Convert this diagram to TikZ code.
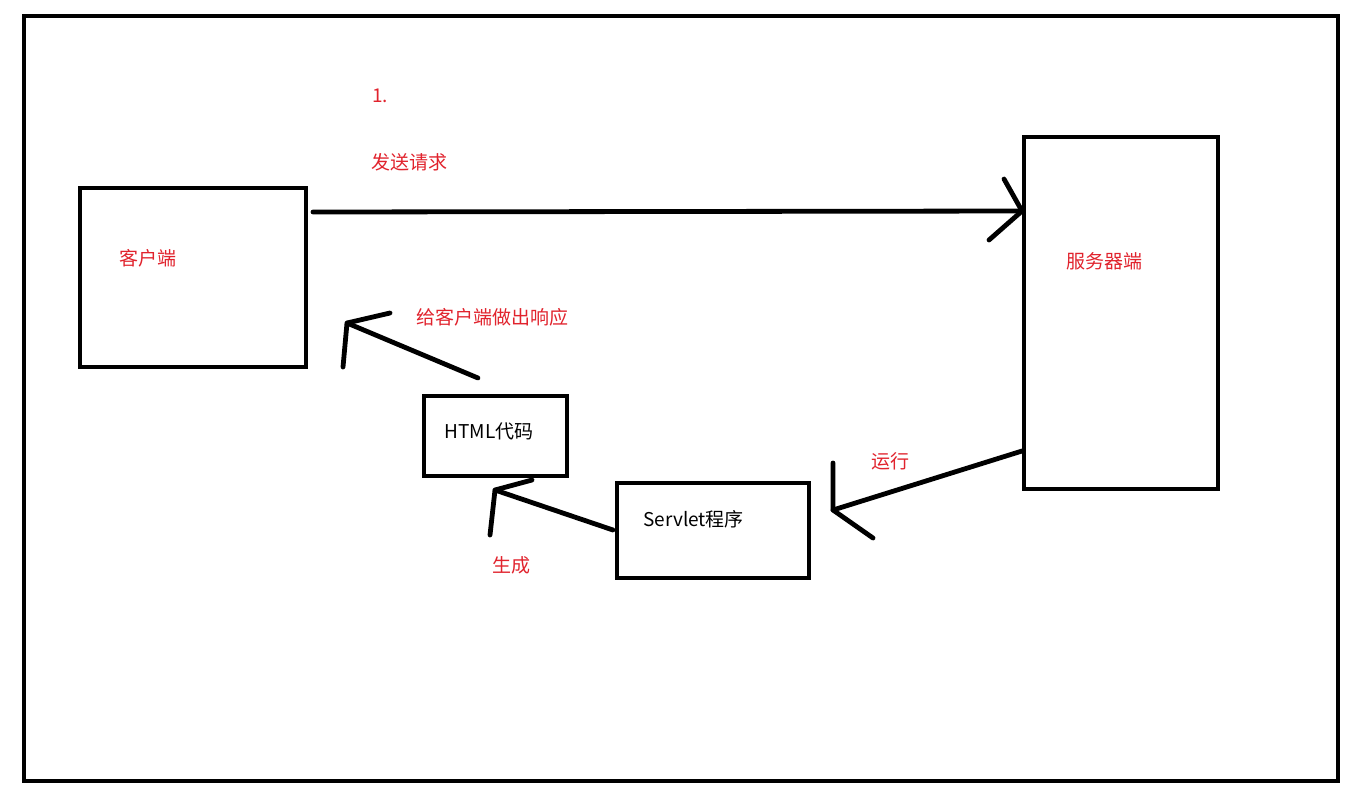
\documentclass[tikz,border=0pt]{standalone}
\usepackage{fontspec}
\setmainfont{Noto Sans CJK SC}
\definecolor{lbl}{RGB}{225,35,45}
\begin{document}
\begin{tikzpicture}[x=0.5pt,y=-0.5pt,
  box/.style={draw=black,line width=2.2pt,inner sep=0pt},
  ln/.style={draw=black,line width=2.4pt,line cap=round,line join=round},
  red/.style={text=lbl,font=\fontsize{9.5pt}{11pt}\selectfont,inner sep=0pt},
  blk/.style={text=black,font=\fontsize{9.5pt}{11pt}\selectfont,inner sep=0pt}]
\useasboundingbox (0,0) rectangle (1359,800);
\fill[white] (0,0) rectangle (1359,800);
\draw[line width=2.2pt] (24,16) rectangle (1338,781);
% boxes
\draw[box] (80,188) rectangle (306,367) node[midway] (client) {};
\draw[box] (1024,137) rectangle (1218,489) node[midway] (server) {};
\draw[box] (424,396) rectangle (567,476) node[midway] (html) {};
\draw[box] (617,483) rectangle (809,578) node[midway] (servlet) {};
% arrows
\coordinate (a1s) at (313,212);
\coordinate (a1e) at (1022,211);
\coordinate (a1u) at (1004,179);
\coordinate (a1d) at (989,240);
\draw[ln] (a1s) -- (a1e);
\draw[ln] (a1u) -- (a1e) -- (a1d);
\coordinate (a2s) at (478,378);
\coordinate (a2e) at (347,323);
\coordinate (a2u) at (390,313);
\coordinate (a2d) at (343,367);
\draw[ln] (a2s) -- (a2e);
\draw[ln] (a2u) -- (a2e) -- (a2d);
\coordinate (a3s) at (613,530);
\coordinate (a3e) at (495,490);
\coordinate (a3u) at (532,480);
\coordinate (a3d) at (490,535);
\draw[ln] (a3s) -- (a3e);
\draw[ln] (a3u) -- (a3e) -- (a3d);
\coordinate (a4s) at (1022,451);
\coordinate (a4e) at (833,510);
\coordinate (a4u) at (833,463);
\coordinate (a4d) at (873,538);
\draw[ln] (a4s) -- (a4e);
\draw[ln] (a4u) -- (a4e) -- (a4d);
% labels
\node[red,anchor=west] (t1) at (372,96) {1.};
\node[red,anchor=west] (t2) at (371,162) {发送请求};
\node[red,anchor=west] (t3) at (119,258) {客户端};
\node[red,anchor=west] (t4) at (1066,261) {服务器端};
\node[red,anchor=west] (t5) at (416,317) {给客户端做出响应};
\node[blk,anchor=west] (t6) at (444,431) {HTML代码};
\node[blk,anchor=west] (t7) at (643,519) {Servlet程序};
\node[red,anchor=west] (t8) at (871,461) {运行};
\node[red,anchor=west] (t9) at (492,565) {生成};
\end{tikzpicture}
\end{document}
